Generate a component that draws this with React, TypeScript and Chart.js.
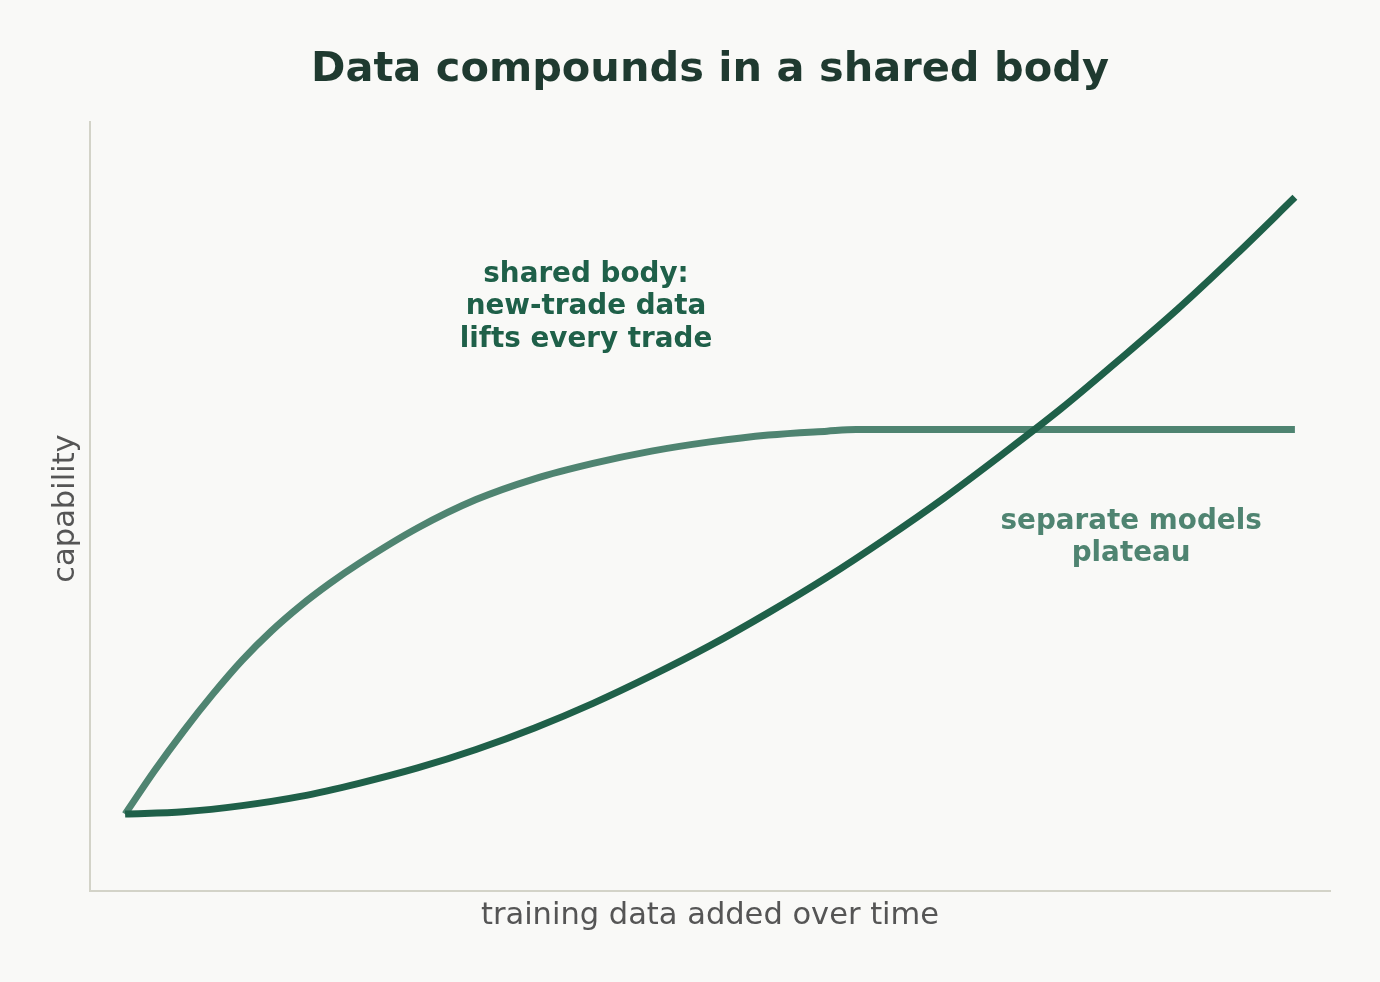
import React, { useEffect, useRef } from "react";
import { Chart, registerables } from "chart.js";

Chart.register(...registerables);

const TITLE = "Data compounds in a shared body";
const X_LABEL = "training data added over time";
const Y_LABEL = "capability";
const SHARED_NOTE = ["shared body:", "new-trade data", "lifts every trade"];
const SEPARATE_NOTE = ["separate models", "plateau"];

// shared body: compounding curve
const sharedX = [0, 0.5, 1, 1.5, 2, 2.5, 3, 3.5, 4, 4.5, 5, 5.5, 6, 6.5, 7, 7.5, 8, 8.5, 9, 9.5, 10];
const sharedY = [1.0, 1.03, 1.11, 1.23, 1.4, 1.6, 1.84, 2.12, 2.44, 2.8, 3.19, 3.62, 4.08, 4.58, 5.11, 5.68, 6.27, 6.91, 7.57, 8.28, 9.02];

// separate models: saturating then flat
const separateX = [0, 0.25, 0.5, 0.75, 1, 1.25, 1.5, 1.75, 2, 2.5, 3, 3.5, 4, 4.5, 5, 5.5, 6, 6.25, 10];
const separateY = [1.0, 1.56, 2.08, 2.56, 3.0, 3.38, 3.71, 4.0, 4.26, 4.72, 5.09, 5.36, 5.56, 5.72, 5.84, 5.93, 5.98, 6.0, 6.0];

const BG = "#f9f9f7";
const DARK = "#1f6049";
const LIGHT = "#4f8471";
const TITLE_COLOR = "#1f3a30";
const LABEL_COLOR = "#555555";
const SPINE = "#d3d3c8";
const FONT = '"DejaVu Sans", sans-serif';

const textPlugin = {
  id: "textPlugin",
  afterDraw(chart: any) {
    const ctx = chart.ctx as CanvasRenderingContext2D;
    const xs = chart.scales.x;
    const area = chart.chartArea;
    const cx = (area.left + area.right) / 2;
    const cy = (area.top + area.bottom) / 2;
    ctx.save();
    ctx.textAlign = "center";
    ctx.textBaseline = "alphabetic";

    ctx.fillStyle = TITLE_COLOR;
    ctx.font = `bold 41.5px ${FONT}`;
    ctx.fillText(TITLE, cx, 81);

    ctx.fillStyle = LABEL_COLOR;
    ctx.font = `30.5px ${FONT}`;
    ctx.fillText(X_LABEL, cx, 924);

    ctx.save();
    ctx.translate(74, cy + 2);
    ctx.rotate(-Math.PI / 2);
    ctx.fillText(Y_LABEL, 0, 0);
    ctx.restore();

    ctx.font = `bold 27.8px ${FONT}`;
    ctx.fillStyle = DARK;
    const sx = xs.getPixelForValue(3.94);
    SHARED_NOTE.forEach((t, i) => ctx.fillText(t, sx, 282 + i * 32.3));

    ctx.fillStyle = LIGHT;
    const px = xs.getPixelForValue(8.6);
    SEPARATE_NOTE.forEach((t, i) => ctx.fillText(t, px, 529 + i * 32));
    ctx.restore();
  },
};

export default function App() {
  const ref = useRef<HTMLCanvasElement>(null);
  useEffect(() => {
    if (!ref.current) return;
    const chart = new Chart(ref.current, {
      type: "line",
      data: {
        datasets: [
          {
            label: "shared body",
            data: sharedX.map((x, i) => ({ x, y: sharedY[i] })),
            borderColor: DARK,
            borderWidth: 7,
            pointRadius: 0,
            cubicInterpolationMode: "monotone",
            fill: false,
          },
          {
            label: "separate models",
            data: separateX.map((x, i) => ({ x, y: separateY[i] })),
            borderColor: LIGHT,
            borderWidth: 7,
            pointRadius: 0,
            cubicInterpolationMode: "monotone",
            fill: false,
          },
        ],
      },
      options: {
        responsive: false,
        animation: false,
        devicePixelRatio: 1,
        layout: { padding: { left: 90, right: 50, top: 122, bottom: 91 } },
        plugins: { legend: { display: false }, tooltip: { enabled: false }, title: { display: false } },
        scales: {
          x: {
            type: "linear",
            min: -0.3,
            max: 10.3,
            grid: { display: false, drawTicks: false },
            ticks: { display: false },
            border: { display: true, color: SPINE, width: 2 },
          },
          y: {
            type: "linear",
            min: 0,
            max: 10,
            grid: { display: false, drawTicks: false },
            ticks: { display: false },
            border: { display: true, color: SPINE, width: 2 },
          },
        },
      },
      plugins: [textPlugin],
    } as any);
    return () => chart.destroy();
  }, []);
  return (
    <div style={{ position: "fixed", left: 0, top: 0, width: 1380, height: 982, background: BG }}>
      <canvas ref={ref} width={1380} height={982} style={{ display: "block" }} />
    </div>
  );
}
